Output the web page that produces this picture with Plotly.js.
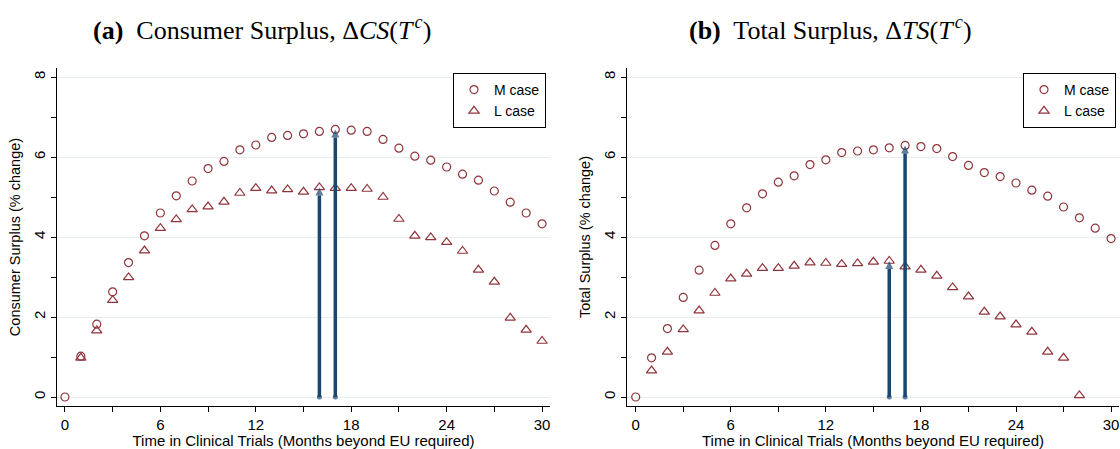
<!DOCTYPE html>
<html>
<head>
<meta charset="utf-8">
<script src="https://cdn.plot.ly/plotly-3.0.1.min.js"></script>
<style>html,body{margin:0;padding:0;background:#fff;}#chart{width:1120px;height:449px;}</style>
</head>
<body>
<div id="chart"></div>
<script>
// Months beyond EU required
const months = [0,1,2,3,4,5,6,7,8,9,10,11,12,13,14,15,16,17,18,19,20,21,22,23,24,25,26,27,28,29,30];

// (a) Consumer surplus, % change
const csM = [0,1.02,1.82,2.63,3.36,4.03,4.6,5.03,5.4,5.71,5.89,6.18,6.3,6.49,6.54,6.58,6.64,6.69,6.67,6.64,6.44,6.22,6.02,5.92,5.75,5.57,5.42,5.15,4.87,4.6,4.33];
const csL = [null,0.98,1.66,2.42,2.99,3.66,4.22,4.44,4.69,4.76,4.88,5.1,5.22,5.16,5.19,5.13,5.24,5.22,5.22,5.2,5.0,4.45,4.03,3.99,3.87,3.65,3.18,2.88,1.98,1.68,1.4];

// (b) Total surplus, % change
const tsM = [0,0.98,1.71,2.49,3.17,3.79,4.33,4.73,5.08,5.37,5.53,5.81,5.93,6.11,6.15,6.18,6.23,6.29,6.26,6.21,6.01,5.79,5.61,5.51,5.35,5.17,5.02,4.75,4.48,4.22,3.96];
const tsL = [null,0.66,1.13,1.69,2.16,2.6,2.96,3.08,3.22,3.22,3.28,3.36,3.35,3.32,3.34,3.38,3.4,3.26,3.18,3.03,2.74,2.51,2.13,2.01,1.81,1.63,1.13,0.98,0.04,null,null];

const seriesNames = ['M case','L case'];
const panelTitles = [
  '<b>(a)</b>\u00a0 Consumer Surplus, \u0394<i>CS</i>(<i>T</i>\u200a<sup><i>c</i></sup>)',
  '<b>(b)</b>\u00a0 Total Surplus, \u0394<i>TS</i>(<i>T</i>\u200a<sup><i>c</i></sup>)'
];
const yTitles = ['Consumer Surplus (% change)','Total Surplus (% change)'];
const xTitle = 'Time in Clinical Trials (Months beyond EU required)';
const yTicks = [0,2,4,6,8];
const xTicks = [0,6,12,18,24,30];

const maroon = '#90353b';
const navy = '#1a476f';

function argmax(arr){let bi=0;for(let i=0;i<arr.length;i++){if(arr[i]!=null && arr[i]>arr[bi])bi=i;}return bi;}

const traces = [];
const panels = [[csM,csL],[tsM,tsL]];
panels.forEach((p,k)=>{
  const xa = k===0?'x':'x2', ya = k===0?'y':'y2', lg = k===0?'legend':'legend2';
  traces.push({x:months,y:p[0],type:'scatter',mode:'markers',name:seriesNames[0],xaxis:xa,yaxis:ya,legend:lg,
    marker:{symbol:'circle-open',size:8,color:maroon,line:{width:1.2,color:maroon}}});
  traces.push({x:months,y:p[1],type:'scatter',mode:'markers',name:seriesNames[1],xaxis:xa,yaxis:ya,legend:lg,
    marker:{symbol:'triangle-up-open',size:9,color:maroon,line:{width:1.2,color:maroon}}});
  // arrows at the maximising month of each series
  [p[1],p[0]].forEach(s=>{
    const i = argmax(s);
    traces.push({x:[months[i],months[i]],y:[0,s[i]],type:'scatter',mode:'lines+markers',showlegend:false,hoverinfo:'skip',
      xaxis:xa,yaxis:ya,line:{color:navy,width:3.5},
      marker:{symbol:['circle','arrow-up'],size:[5,8],color:navy,line:{width:0}}});
  });
});

const L=57, R=1, T=68, B=43, W=1120, H=449;
const pw = W-L-R;
function dom(a,b){return [(a-L)/pw,(b-L)/pw];}

function xax(d,r){return {domain:d,range:r,tickvals:xTicks,ticks:'outside',ticklen:5,tickcolor:'#000',
  minor:{dtick:3,tick0:0,ticks:'outside',ticklen:5,tickcolor:'#000',showgrid:false},
  showgrid:false,zeroline:false,showline:true,linecolor:'#000',linewidth:1,
  tickfont:{family:'Liberation Sans, Arial, sans-serif',size:15,color:'#000'},
  title:{text:xTitle,font:{family:'Liberation Sans, Arial, sans-serif',size:15,color:'#000'},standoff:2}};}
function yax(anchor,t){return {domain:[0,1],range:[-0.225,8.225],anchor:anchor,tickvals:yTicks,tickangle:-90,ticks:'outside',ticklen:5,tickcolor:'#000',
  minor:{dtick:1,tick0:0,ticks:'outside',ticklen:5,tickcolor:'#000',showgrid:false},
  showgrid:true,gridcolor:'#e6eef0',gridwidth:1,zeroline:false,showline:true,linecolor:'#000',linewidth:1,
  tickfont:{family:'Liberation Sans, Arial, sans-serif',size:15,color:'#000'},
  title:{text:t,font:{family:'Liberation Sans, Arial, sans-serif',size:14.5,color:'#000'},standoff:6}};}

function legendAt(rightPx){return {x:(rightPx-L)/pw,xanchor:'right',y:1-(73-T)/(H-T-B),yanchor:'top',
  bgcolor:'#fff',bordercolor:'#000',borderwidth:1,font:{family:'Liberation Sans, Arial, sans-serif',size:14,color:'#000'},
  itemwidth:30,tracegroupgap:0};}

const layout = {
  width:W,height:H,margin:{l:L,r:R,t:T,b:B},
  paper_bgcolor:'#fff',plot_bgcolor:'#fff',
  xaxis:xax(dom(57,550),[-0.5,30.5]),
  yaxis:yax('x',yTitles[0]),
  xaxis2:xax(dom(627,1119),[-0.55,30.5]),
  yaxis2:yax('x2',yTitles[1]),
  legend:legendAt(546),
  legend2:legendAt(1116),
  annotations:[
    {text:panelTitles[0],xref:'paper',yref:'paper',x:dom(262,262)[0],y:1+(T-28)/(H-T-B),xanchor:'center',yanchor:'middle',showarrow:false,
      font:{family:'Liberation Serif, Times New Roman, serif',size:26,color:'#000'}},
    {text:panelTitles[1],xref:'paper',yref:'paper',x:dom(830,830)[0],y:1+(T-28)/(H-T-B),xanchor:'center',yanchor:'middle',showarrow:false,
      font:{family:'Liberation Serif, Times New Roman, serif',size:26,color:'#000'}}
  ],
  showlegend:true
};

Plotly.newPlot('chart',traces,layout,{displayModeBar:false,staticPlot:true});
</script>
</body>
</html>
